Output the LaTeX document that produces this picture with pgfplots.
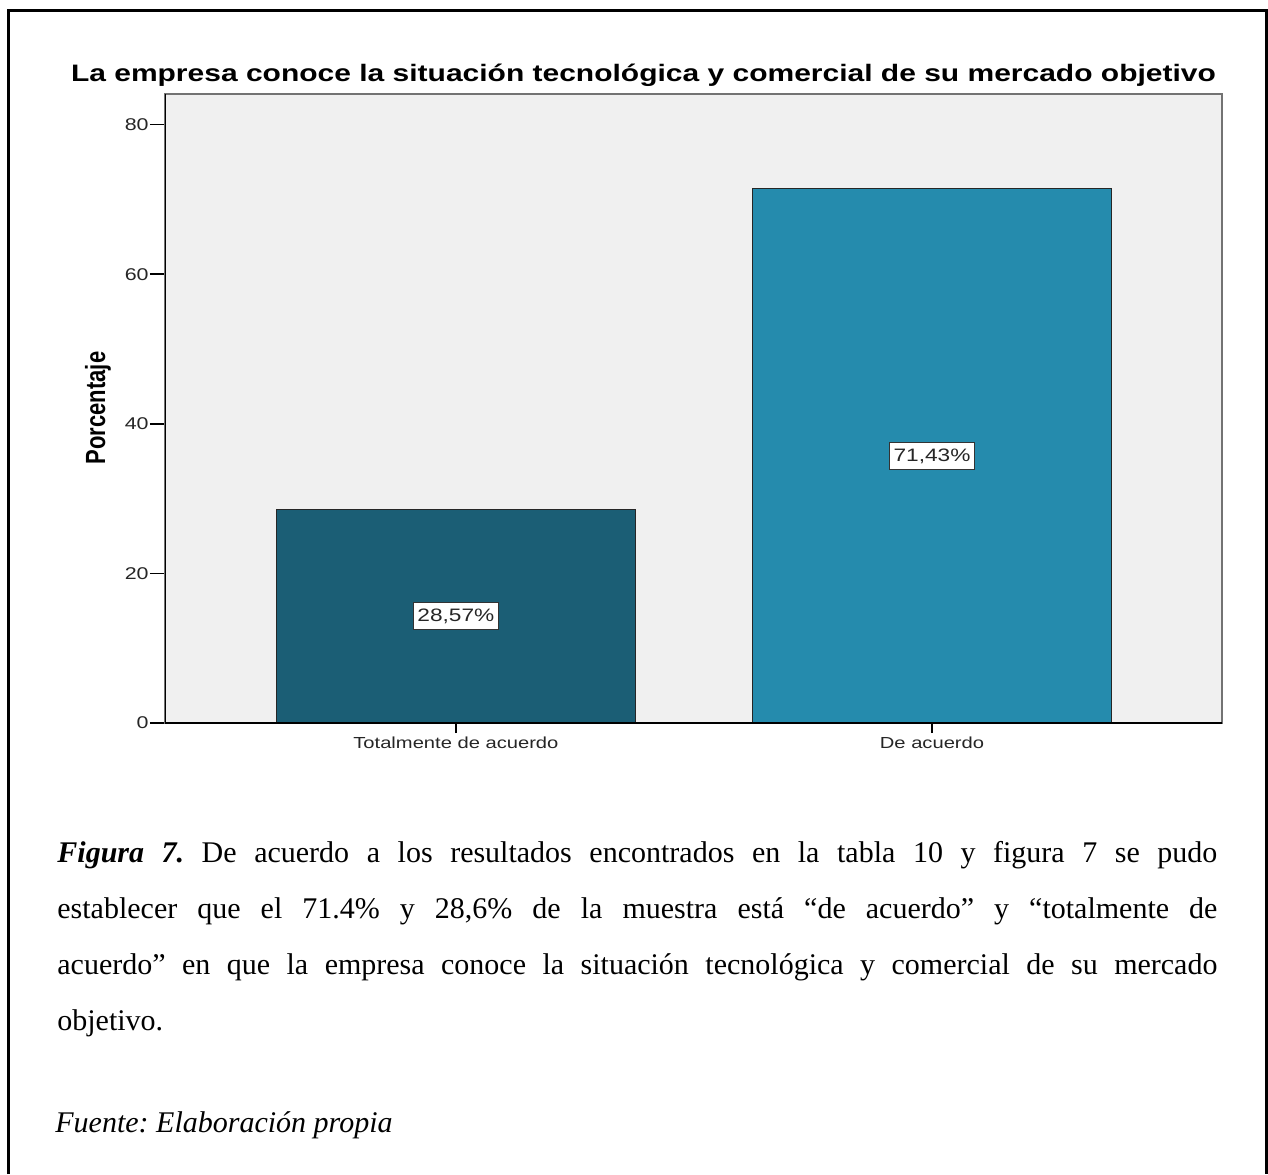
\documentclass[border=0pt]{standalone}
\usepackage{fontspec}
\setmainfont{Liberation Serif}
\setsansfont{Liberation Sans}
\newfontfamily\chartfont[FakeStretch=1.26]{Liberation Sans}
\usepackage{graphicx}
\usepackage{pgfplots}
\pgfplotsset{compat=1.18}
\definecolor{bardark}{HTML}{1B5E75}
\definecolor{barlight}{HTML}{258BAD}
\definecolor{plotbg}{HTML}{F0F0F0}
\frenchspacing
\begin{document}
\begin{tikzpicture}[x=0.5pt,y=0.5pt]
\path[use as bounding box] (0,0) rectangle (1268,1174);
% outer frame
\draw[line width=1.5pt] (8,0) -- (8,1163) -- (1266,1163) -- (1266,0);
% chart title and y label
\node[font=\chartfont\bfseries\fontsize{11.9}{14}\selectfont, anchor=base, inner sep=0pt]
  at (643.5,1092) {La empresa conoce la situación tecnológica y comercial de su mercado objetivo};
\node[font=\sffamily\bfseries\fontsize{11}{13}\selectfont, rotate=90, anchor=base, inner sep=0pt]
  at (105,766) {\scalebox{1}[1.26]{Porcentaje}};
\begin{axis}[
  at={(82.5pt,225.5pt)}, anchor=south west,
  scale only axis, width=528.5pt, height=314.5pt,
  xmin=-0.611, xmax=1.609, ymin=0, ymax=84.1,
  axis background/.style={fill=plotbg},
  axis line style={draw=black!55, line width=1pt},
  xtick={0,1}, xticklabels={Totalmente de acuerdo, De acuerdo},
  ytick={0,20,40,60,80},
  tick align=outside, tick pos=left,
  major tick length=7.5pt,
  tick style={black, line width=0.8pt},
  xtick style={/pgfplots/major tick length=5pt},
  /pgf/number format/assume math mode=true,
  ticklabel style={text=black!85},
  yticklabel style={inner xsep=0.5pt, font=\chartfont\fontsize{8.5}{10}\selectfont},
  xticklabel style={anchor=base, yshift=-5pt, font=\chartfont\fontsize{8}{10}\selectfont},
  bar width=0.754,
  visualization depends on=y \as \rawy,
  nodes near coords={\pgfmathprintnumber[fixed, fixed zerofill, precision=2, use comma]{\pgfplotspointmeta}\%},
  nodes near coords align={center},
  every node near coord/.append style={
    font=\chartfont\fontsize{9}{10}\selectfont, text=black!85,
    fill=white, draw=black!80, line width=0.6pt,
    inner xsep=2pt, inner ysep=3pt,
    shift={(axis direction cs:0,-\rawy/2)}},
]
\addplot[ybar, bar shift=0pt, fill=bardark, draw=black!85, line width=0.7pt]
  coordinates {(0,28.57)};
\addplot[ybar, bar shift=0pt, fill=barlight, draw=black!85, line width=0.7pt]
  coordinates {(1,71.43)};
% darker left and bottom axis lines
\draw[black, line width=1pt] (rel axis cs:0,1) -- (rel axis cs:0,0) -- (rel axis cs:1,0);
\end{axis}
% caption
\node[anchor=base west, inner sep=0pt] at (57,312) {\parbox[t]{580pt}{%
  \fontsize{15}{28}\selectfont
  \textbf{\textit{Figura 7.}} De acuerdo a los resultados encontrados en la tabla 10 y figura 7 se pudo\linebreak
  establecer que el 71.4\% y 28,6\% de la muestra está “de acuerdo” y “totalmente de\linebreak
  acuerdo” en que la empresa conoce la situación tecnológica y comercial de su mercado\linebreak
  objetivo.}};
\node[anchor=base west, inner sep=0pt, font=\fontsize{15}{18}\selectfont\itshape]
  at (55,42) {Fuente: Elaboración propia};
\end{tikzpicture}
\end{document}
